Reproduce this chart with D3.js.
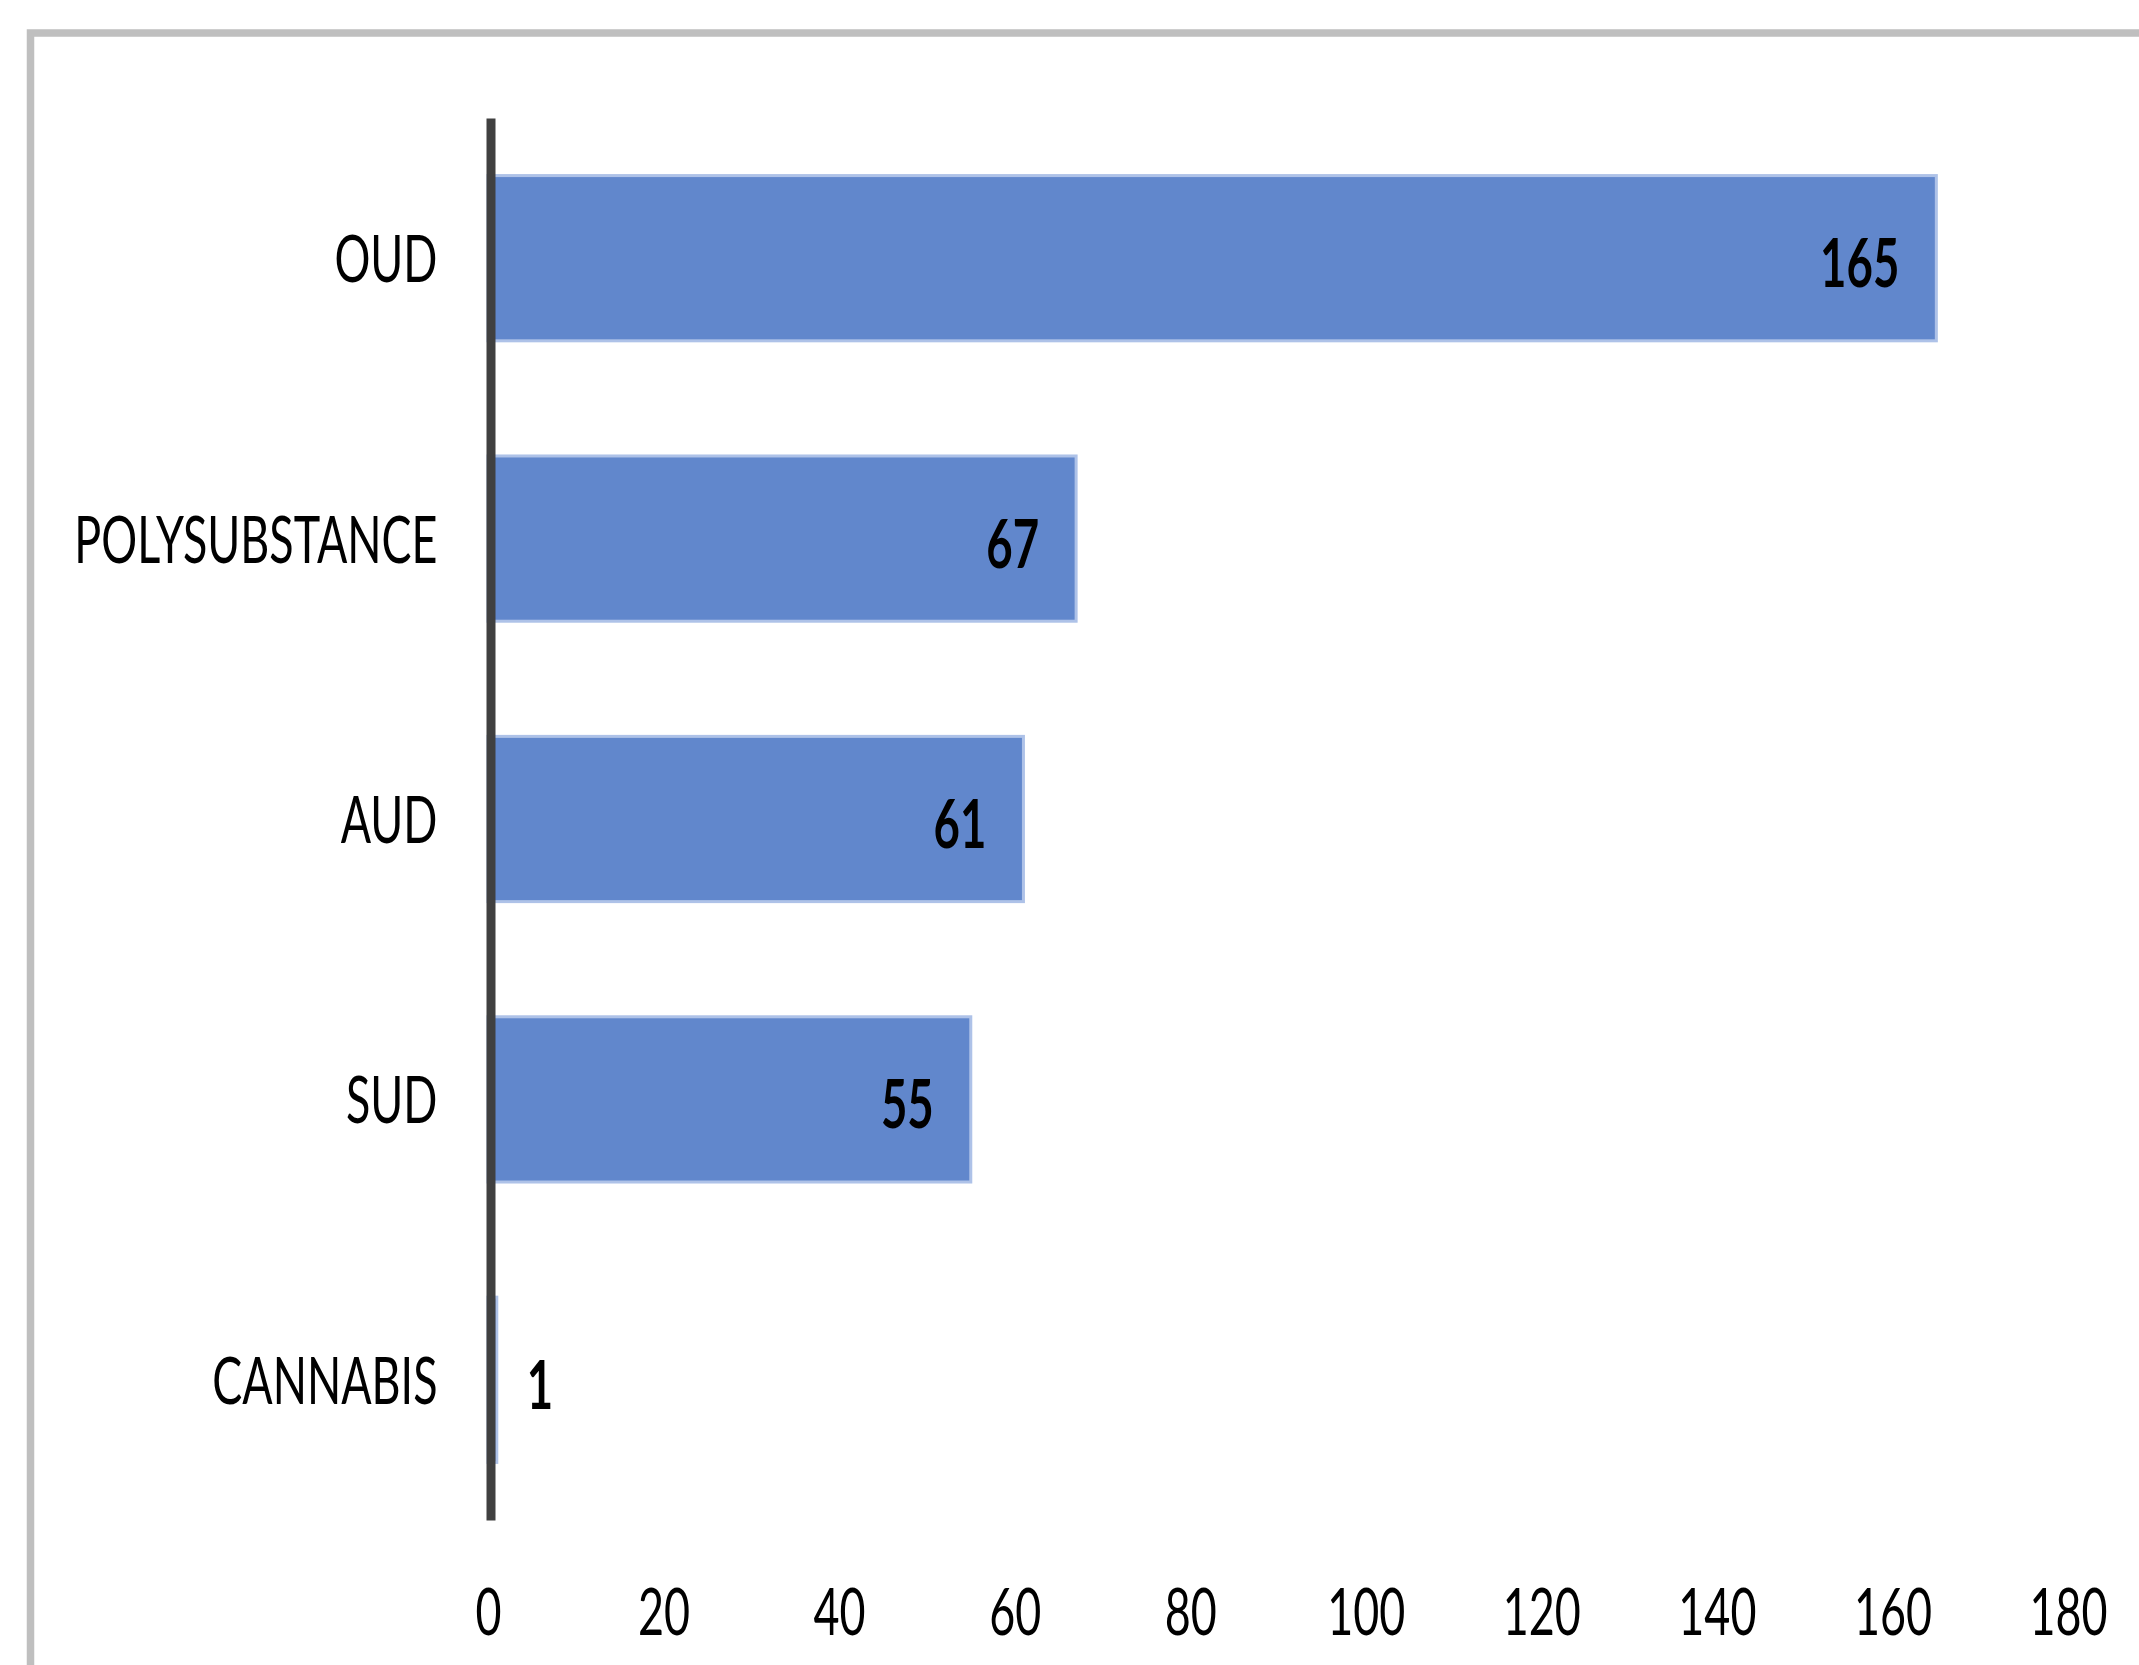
<!DOCTYPE html>
<html>
<head>
<meta charset="utf-8">
<script src="https://cdn.jsdelivr.net/npm/d3@7/dist/d3.min.js"></script>
<style>
  html, body { margin: 0; padding: 0; background: #ffffff; }
  svg { display: block; }
  text { font-family: Lato, "Open Sans", sans-serif; fill: #000000; }
</style>
</head>
<body>
<svg id="chart" width="2139" height="1665"></svg>
<script>
// Substance use disorder categories and their counts
const categories = ["OUD", "POLYSUBSTANCE", "AUD", "SUD", "CANNABIS"];
const counts = [165, 67, 61, 55, 1];
const xTicks = [0, 20, 40, 60, 80, 100, 120, 140, 160, 180];

const W = 2139, H = 1665;
const plot = { left: 488, right: 2068, top: 118, bottom: 1520 };
const narrow = 0.68; // horizontal squeeze for the tall, condensed lettering

const svg = d3.select("#chart");

// frame around the chart area (runs off the right and bottom edges)
svg.append("rect")
  .attr("x", 30.5).attr("y", 33)
  .attr("width", W).attr("height", H)
  .attr("fill", "none")
  .attr("stroke", "#bfbfbf")
  .attr("stroke-width", 7.5);

const x = d3.scaleLinear().domain([0, 180]).range([plot.left, plot.right]);
const y = d3.scaleBand().domain(categories)
  .range([plot.top, plot.bottom])
  .paddingInner(0.4).paddingOuter(0.2);

const data = categories.map((c, i) => ({ cat: c, value: counts[i] }));

// bars
svg.append("g").selectAll("rect")
  .data(data)
  .join("rect")
  .attr("x", x(0))
  .attr("y", d => y(d.cat) + 1.5)
  .attr("width", d => x(d.value) - x(0))
  .attr("height", y.bandwidth() - 3)
  .attr("fill", "#6187cc")
  .attr("stroke", "#aec2e8")
  .attr("stroke-width", 3);

// value labels: inside the bar end, or just past it for very short bars
const fitsInside = d => x(d.value) - x(0) > 100;
svg.append("g").selectAll("text")
  .data(data)
  .join("text")
  .attr("transform", d => {
    const tx = fitsInside(d) ? x(d.value) - 37 : x(d.value) + 30;
    return `translate(${tx},${y(d.cat) + y.bandwidth() / 2 + 29}) scale(${narrow},1)`;
  })
  .attr("text-anchor", d => (fitsInside(d) ? "end" : "start"))
  .style("font-size", "67px")
  .style("font-weight", "bold")
  .text(d => d.value);

// bottom value axis: labels only
const xAxis = svg.append("g")
  .attr("transform", `translate(0,1635)`)
  .call(d3.axisBottom(x).tickValues(xTicks).tickSize(0).tickFormat(d3.format("d")));
xAxis.select(".domain").remove();
xAxis.selectAll("text")
  .attr("y", 0).attr("dy", 0)
  .attr("transform", `scale(${narrow},1)`)
  .style("font-size", "66px")
  .style("font-family", "Lato, 'Open Sans', sans-serif")
  .attr("fill", "#000");

// left category axis: thick dark baseline plus labels
const yAxis = svg.append("g")
  .attr("transform", `translate(${x(0) + 2.5},0)`)
  .call(d3.axisLeft(y).tickSize(0).tickSizeOuter(0));
yAxis.select(".domain")
  .attr("stroke", "#404040")
  .attr("stroke-width", 9);
yAxis.selectAll(".tick text")
  .attr("x", 0).attr("dy", 0)
  .attr("transform", `translate(-53,24) scale(${narrow},1)`)
  .attr("text-anchor", "end")
  .style("font-size", "66px")
  .style("font-family", "Lato, 'Open Sans', sans-serif")
  .attr("fill", "#000");
</script>
</body>
</html>
